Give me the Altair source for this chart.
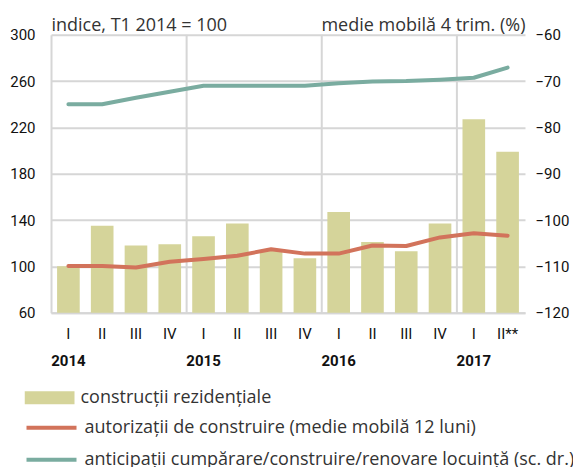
import altair as alt
import pandas as pd

# ---- data ----
years = ["2014", "2014", "2014", "2014", "2015", "2015", "2015", "2015",
         "2016", "2016", "2016", "2016", "2017", "2017"]
quarters = ["I", "II", "III", "IV", "I", "II", "III", "IV",
            "I", "II", "III", "IV", "I", "II**"]
constructii = [100, 135, 118, 119, 126, 137, 114, 107, 147, 121, 113, 137, 227, 199]
autorizatii = [100.3, 100.3, 99.0, 104.0, 106.4, 109.2, 114.7, 111.0,
               111.0, 118.0, 117.6, 125.0, 128.6, 126.5]
anticipatii = [-75.0, -75.0, -73.6, -72.3, -71.0, -71.0, -71.0, -71.0,
               -70.5, -70.1, -70.0, -69.7, -69.3, -67.1]
year_label_keys = ["2014-I", "2015-I", "2016-I", "2017-I"]
year_break_keys = ["2015-I", "2016-I", "2017-I"]
left_ticks = [60, 100, 140, 180, 220, 260, 300]
right_ticks = [-120, -110, -100, -90, -80, -70, -60]
series_names = ["construcții rezidențiale",
                "autorizații de construire (medie mobilă 12 luni)",
                "anticipații cumpărare/construire/renovare locuință (sc. dr.)"]
left_title = "indice, T1 2014 = 100"
right_title = "medie mobilă 4 trim. (%)"

keys = [f"{y}-{q}" for y, q in zip(years, quarters)]
df = pd.DataFrame({
    "key": keys,
    "constructii": constructii,
    "autorizatii": autorizatii,
    "anticipatii": anticipatii,
    "s_bar": series_names[0],
    "s_aut": series_names[1],
    "s_ant": series_names[2],
})
breaks = pd.DataFrame({"key": year_break_keys})

# ---- style ----
W, H = 474, 278
BAR = "#d5d49a"
RED = "#d2735b"
TEAL = "#7aaca0"
GRID = "#d6d6d6"
NUM_FONT = "Roboto, sans-serif"
TXT_FONT = "Open Sans, Noto Sans, sans-serif"
NUM_SIZE = 15

xscale = alt.Scale(domain=keys, paddingInner=0.33, paddingOuter=0.18)

left_axis = alt.Axis(
    orient="left", values=left_ticks, grid=True, gridColor=GRID, gridWidth=2,
    ticks=False, domain=True, domainColor=GRID, domainWidth=2,
    labelFont=NUM_FONT, labelFontSize=NUM_SIZE, labelColor="#111", labelPadding=16,
    title=left_title, titleAngle=0, titleAlign="left", titleBaseline="alphabetic",
    titleX=0, titleY=-4, titleFont=TXT_FONT, titleFontSize=18,
    titleFontWeight="normal", titleColor="#333",
)
right_axis = alt.Axis(
    orient="right", values=right_ticks, grid=False, ticks=False, domain=False,
    labelFont=NUM_FONT, labelFontSize=NUM_SIZE, labelColor="#111", labelPadding=10,
    title=right_title, titleAngle=0, titleAlign="right", titleBaseline="alphabetic",
    titleX=0, titleY=-4, titleFont=TXT_FONT, titleFontSize=18,
    titleFontWeight="normal", titleColor="#333",
)
quarter_axis = alt.Axis(
    orient="bottom", labelExpr="split(datum.value, '-')[1]", ticks=False, grid=False,
    domain=True, domainColor=GRID, domainWidth=2, labelAngle=0,
    labelFont=NUM_FONT, labelFontSize=NUM_SIZE, labelColor="#111", labelPadding=14,
)
year_axis = alt.Axis(
    orient="bottom", values=year_label_keys, labelExpr="split(datum.value, '-')[0]",
    ticks=False, grid=False, domain=False, labelAngle=0, offset=27,
    labelFont=NUM_FONT, labelFontSize=NUM_SIZE, labelFontWeight="bold",
    labelColor="#111", labelPadding=14,
)

yleft = alt.Scale(domain=[60, 300], nice=False, zero=False, clamp=True)
yright = alt.Scale(domain=[-120, -60], nice=False, zero=False)

rules = alt.Chart(breaks).mark_rule(color=GRID, strokeWidth=2, xOffset=-5.6).encode(
    x=alt.X("key:N", scale=xscale, bandPosition=0, axis=year_axis, title=None),
)

bars = alt.Chart(df).mark_bar().encode(
    x=alt.X("key:N", scale=xscale, axis=quarter_axis, title=None),
    y=alt.Y("constructii:Q", scale=yleft, axis=left_axis),
    fill=alt.Fill("s_bar:N", scale=alt.Scale(domain=[series_names[0]], range=[BAR]),
                  legend=alt.Legend(
                      title=None, orient="none", legendX=-26.5, legendY=355,
                      symbolType="M-1,-0.26L1,-0.26L1,0.26L-1,0.26Z",
                      symbolSize=2500, symbolStrokeWidth=0, symbolOpacity=1,
                      clipHeight=16, labelFont=TXT_FONT, labelFontSize=18,
                      labelColor="#333", labelOffset=6, labelLimit=700, padding=0)),
)

stroke_scale = alt.Scale(domain=series_names[1:], range=[RED, TEAL])
stroke_legend = alt.Legend(
    title=None, orient="none", legendX=-26.5, legendY=385,
    symbolType="stroke", symbolSize=2500, symbolStrokeWidth=4,
    clipHeight=16, rowPadding=14, labelFont=TXT_FONT, labelFontSize=18,
    labelColor="#333", labelOffset=6, labelLimit=700, padding=0,
)

red = alt.Chart(df).mark_line(strokeWidth=4, strokeCap="round", strokeJoin="round").encode(
    x=alt.X("key:N", scale=xscale, axis=None),
    y=alt.Y("autorizatii:Q", scale=yleft, axis=None),
    stroke=alt.Stroke("s_aut:N", scale=stroke_scale, legend=stroke_legend),
)

teal = alt.Chart(df).mark_line(strokeWidth=4, strokeCap="round", strokeJoin="round").encode(
    x=alt.X("key:N", scale=xscale, axis=None),
    y=alt.Y("anticipatii:Q", scale=yright, axis=right_axis),
    stroke=alt.Stroke("s_ant:N", scale=stroke_scale, legend=stroke_legend),
)

chart = alt.layer(rules, bars, red, teal).resolve_scale(
    y="independent"
).resolve_axis(
    x="independent", y="independent"
).properties(
    width=W, height=H,
    padding={"left": 43, "top": 26.7, "right": 48, "bottom": 154},
    autosize=alt.AutoSizeParams(type="none"),
    background="white",
).configure_view(stroke=None)

chart.save("out.html", embed_options={"renderer": "svg", "actions": False})
